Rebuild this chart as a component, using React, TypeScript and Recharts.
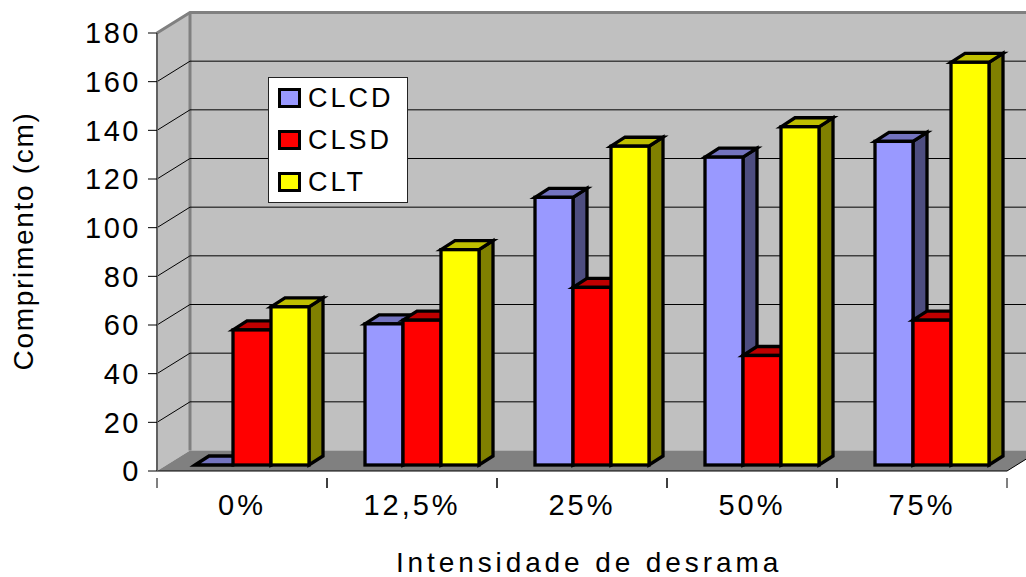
import { BarChart, Bar, XAxis, YAxis, CartesianGrid, Legend, ReferenceArea } from 'recharts';

const categories = ['0%', '12,5%', '25%', '50%', '75%'];
const clcdValues = [0, 58, 110, 126.5, 133];
const clsdValues = [55.5, 59.5, 73, 45, 59.5];
const cltValues = [65, 88.5, 131, 139, 165.5];
const yTicks = [0, 20, 40, 60, 80, 100, 120, 140, 160, 180];

const data = categories.map((name, i) => ({
  name,
  CLCD: clcdValues[i],
  CLSD: clsdValues[i],
  CLT: cltValues[i],
}));

const FONT = '"Liberation Sans", Arial, sans-serif';

// chart depth (wall offset) and bar depth, in px
const WALL_DX = 33;
const WALL_DY = 20.5;
const BAR_SHIFT_X = 10;
const BAR_SHIFT_Y = 6;
const BAR_DX = 14;
const BAR_DY = 9;

const SERIES = [
  { key: 'CLCD', front: '#9999FF', top: '#7373BF', side: '#4D4D80' },
  { key: 'CLSD', front: '#FF0000', top: '#BF0000', side: '#800000' },
  { key: 'CLT', front: '#FFFF00', top: '#BFBF00', side: '#808000' },
];

const bar3d = (colors: (typeof SERIES)[number]) => (props: any) => {
  const x = props.x + BAR_SHIFT_X;
  const y = props.y - BAR_SHIFT_Y;
  const w = props.width;
  const h = props.height;
  const line = { stroke: '#000', strokeWidth: 3.3 };
  return (
    <g>
      <polygon
        points={`${x + w},${y} ${x + w + BAR_DX},${y - BAR_DY} ${x + w + BAR_DX},${y + h - BAR_DY} ${x + w},${y + h}`}
        fill={colors.side}
        {...line}
      />
      <polygon
        points={`${x},${y} ${x + BAR_DX},${y - BAR_DY} ${x + w + BAR_DX},${y - BAR_DY} ${x + w},${y}`}
        fill={colors.top}
        {...line}
      />
      <rect x={x} y={y} width={w} height={h} fill={colors.front} {...line} />
    </g>
  );
};

// back wall, side wall and floor of the 3D box
const renderWalls = (props: any) => {
  const { x, y, width, height } = props;
  const bottom = y + height;
  const right = x + width;
  return (
    <g>
      <polygon
        points={`${x},${y} ${x + WALL_DX},${y - WALL_DY} ${x + WALL_DX},${bottom - WALL_DY} ${x},${bottom}`}
        fill="#C0C0C0"
      />
      <rect x={x + WALL_DX} y={y - WALL_DY} width={width} height={height} fill="#C0C0C0" />
      <polygon
        points={`${x},${bottom} ${x + WALL_DX},${bottom - WALL_DY} ${right + WALL_DX},${bottom - WALL_DY} ${right},${bottom}`}
        fill="#808080"
      />
      <line x1={right} y1={bottom} x2={right + WALL_DX} y2={bottom - WALL_DY} stroke="#000" strokeWidth={1} />
      <polyline
        points={`${x},${y} ${x + WALL_DX},${y - WALL_DY} ${right + WALL_DX},${y - WALL_DY}`}
        fill="none"
        stroke="#808080"
        strokeWidth={3}
      />
      <line
        x1={x + WALL_DX}
        y1={y - WALL_DY}
        x2={x + WALL_DX}
        y2={bottom - WALL_DY}
        stroke="#808080"
        strokeWidth={3}
      />
    </g>
  );
};

const renderGridLine = (props: any) => {
  const { x1, x2, y1, index, offset } = props;
  const first = offset ? y1 <= offset.top + 1 || y1 >= offset.top + offset.height - 1 : false;
  if (first) return <g key={`grid-${index}`} />;
  return (
    <g key={`grid-${index}`}>
      <line x1={x1} y1={y1} x2={x1 + WALL_DX} y2={y1 - WALL_DY} stroke="#000" strokeWidth={1} />
      <line x1={x1 + WALL_DX} y1={y1 - WALL_DY} x2={x2 + WALL_DX} y2={y1 - WALL_DY} stroke="#000" strokeWidth={1} />
    </g>
  );
};

const BAND = 170;

const renderXTick = (props: any) => {
  const { x, y, payload } = props;
  return (
    <g>
      <line x1={x - BAND / 2} y1={y - 1} x2={x - BAND / 2} y2={y + 9} stroke="#000" />
      <line x1={x + BAND / 2} y1={y - 1} x2={x + BAND / 2} y2={y + 9} stroke="#000" />
      <text
        x={x}
        y={y + 36}
        textAnchor="middle"
        fontSize={29}
        fontFamily={FONT}
        letterSpacing={3}
        fill="#000"
      >
        {payload.value}
      </text>
    </g>
  );
};

const renderLegend = () => (
  <div
    style={{
      boxSizing: 'border-box',
      width: 140,
      height: 126,
      background: '#fff',
      border: '1px solid #222',
      fontFamily: FONT,
      fontSize: 27,
      letterSpacing: 3,
      color: '#000',
      position: 'relative',
    }}
  >
    {SERIES.map((s, i) => (
      <div key={s.key} style={{ position: 'absolute', left: 9, top: 9 + i * 42, height: 22, display: 'flex', alignItems: 'center' }}>
        <span
          style={{
            boxSizing: 'border-box',
            display: 'inline-block',
            width: 23,
            height: 20,
            background: s.front,
            border: '3px solid #000',
            marginRight: 7,
          }}
        />
        <span style={{ lineHeight: '22px' }}>{s.key}</span>
      </div>
    ))}
  </div>
);

export default function App() {
  return (
    <div style={{ position: 'absolute', left: 0, top: 0, width: 1026, height: 577, background: '#fff' }}>
      <BarChart
        width={1026}
        height={577}
        data={data}
        margin={{ top: 33, right: 19, bottom: 0, left: 0 }}
        barSize={38}
        barGap={0}
      >
        <ReferenceArea ifOverflow="visible" shape={renderWalls} zIndex={-200} />
        <CartesianGrid vertical={false} horizontal={renderGridLine} />
        <XAxis
          dataKey="name"
          height={106}
          stroke="#000"
          tickLine={false}
          tick={renderXTick}
          interval={0}
          label={{
            value: 'Intensidade de desrama',
            position: 'insideBottom',
            offset: 5,
            dx: 7,
            style: { fontSize: 28, fontFamily: FONT, letterSpacing: 3.9, fill: '#000' },
          }}
        />
        <YAxis
          domain={[0, 180]}
          ticks={yTicks}
          interval={0}
          width={157}
          stroke="#606060"
          strokeWidth={2}
          tickSize={9}
          tickMargin={7}
          tick={{ fontSize: 29, fontFamily: FONT, letterSpacing: 2.5, fill: '#000', stroke: 'none' }}
          tickLine={{ stroke: '#000', strokeWidth: 1 }}
          label={{
            value: 'Comprimento (cm)',
            angle: -90,
            position: 'insideLeft',
            offset: 23,
            dy: -11,
            style: { fontSize: 28, fontFamily: FONT, letterSpacing: 1.7, fill: '#000', textAnchor: 'middle' },
          }}
        />
        <Legend
          layout="vertical"
          wrapperStyle={{ left: 268, top: 77, width: 0, height: 0 }}
          content={renderLegend}
        />
        {SERIES.map((s) => (
          <Bar key={s.key} dataKey={s.key} fill={s.front} shape={bar3d(s)} isAnimationActive={false} />
        ))}
      </BarChart>
    </div>
  );
}
